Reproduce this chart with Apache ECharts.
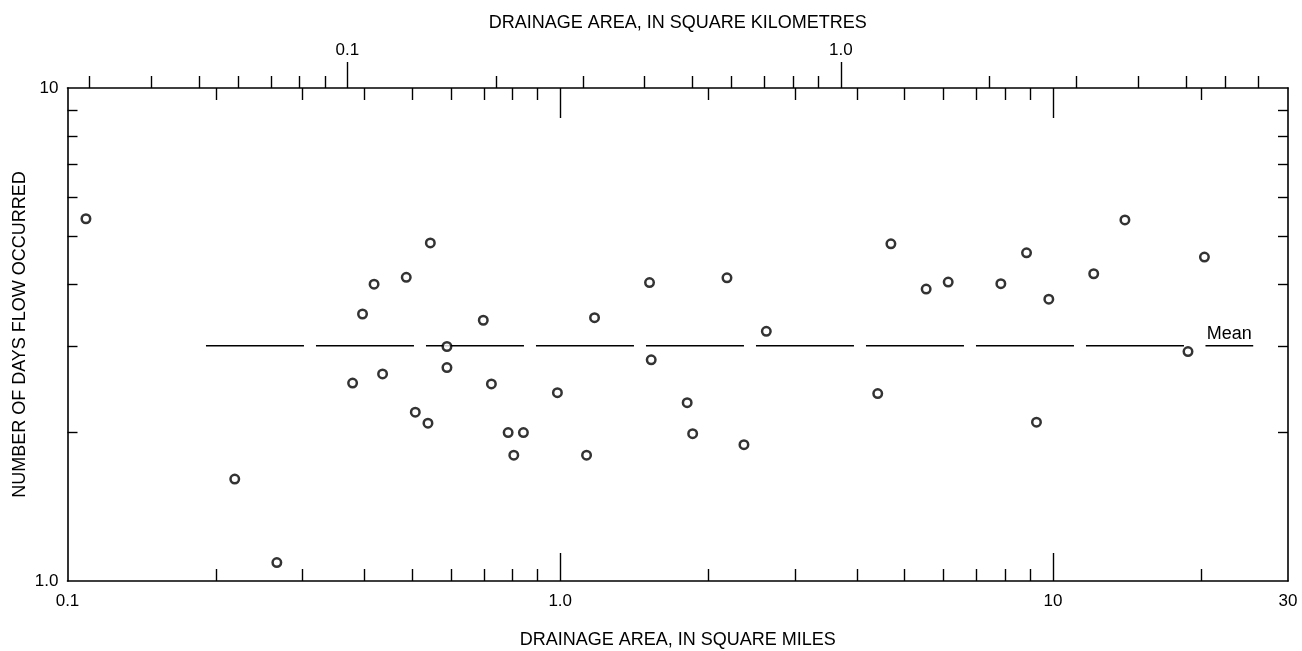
<!DOCTYPE html>
<html>
<head>
<meta charset="utf-8">
<script src="https://cdn.jsdelivr.net/npm/echarts@6/dist/echarts.min.js"></script>
<style>
  html, body { margin: 0; padding: 0; background: #fff; }
  #chart { width: 1302px; height: 651px; }
</style>
</head>
<body>
<div id="chart"></div>
<script>
// ---- data ----
const areaSqMi = [0.109, 0.2185, 0.266, 0.379, 0.397, 0.419, 0.436, 0.487, 0.508, 0.539,
                  0.545, 0.589, 0.589, 0.698, 0.725, 0.784, 0.805, 0.842, 0.987, 1.131,
                  1.174, 1.518, 1.53, 1.81, 1.857, 2.18, 2.36, 2.62, 4.41, 4.69,
                  5.53, 6.13, 7.84, 8.84, 9.26, 9.81, 12.1, 14.0, 18.8, 20.3];
const daysFlow = [5.43, 1.61, 1.09, 2.52, 3.48, 4.00, 2.63, 4.13, 2.20, 2.09,
                  4.85, 2.99, 2.71, 3.38, 2.51, 2.00, 1.80, 2.00, 2.41, 1.80,
                  3.42, 4.03, 2.81, 2.30, 1.99, 4.12, 1.89, 3.21, 2.40, 4.83,
                  3.91, 4.04, 4.01, 4.63, 2.10, 3.73, 4.20, 5.40, 2.92, 4.54];

const meanDays = 3.0;
const meanLineFrom = 0.191;
const meanLineTo = 18.6;
const meanUnderlineFrom = 20.4;
const meanUnderlineTo = 25.5;
const meanLabelAt = 22.8;
const meanLabelText = 'Mean';

// axes
const miMin = 0.1, miMax = 30;
const kmMin = 0.0271, kmMax = 8.05;
const dayMin = 1, dayMax = 10;

const miMinorTicks = [0.2, 0.3, 0.4, 0.5, 0.6, 0.7, 0.8, 0.9, 2, 3, 4, 5, 6, 7, 8, 9, 20];
const miMajorTicks = [1, 10];
const miLabelValues = [0.1, 1, 10, 30];
const miLabelTexts = ['0.1', '1.0', '10', '30'];

const kmMinorTicks = [0.03, 0.04, 0.05, 0.06, 0.07, 0.08, 0.09, 0.2, 0.3, 0.4, 0.5, 0.6, 0.7, 0.8, 0.9, 2, 3, 4, 5, 6, 7];
const kmMajorTicks = [0.1, 1];
const kmLabelValues = [0.1, 1];
const kmLabelTexts = ['0.1', '1.0'];

const dayMinorTicks = [2, 3, 4, 5, 6, 7, 8, 9];
const dayLabelValues = [1, 10];
const dayLabelTexts = ['1.0', '10'];

const xTitleBottom = 'DRAINAGE AREA, IN SQUARE MILES';
const xTitleTop = 'DRAINAGE AREA, IN SQUARE KILOMETRES';
const yTitle = 'NUMBER OF DAYS FLOW OCCURRED';

// ---- chart ----
const FONT = '"Liberation Sans", Arial, Helvetica, sans-serif';
const INK = '#000';

function fmt(values, texts) {
  return function (v) {
    for (let i = 0; i < values.length; i++) {
      if (Math.abs(v - values[i]) / values[i] < 1e-6) return texts[i];
    }
    return '';
  };
}

const lineStyle = { color: INK, width: 1.6 };
const tickStyle = { color: INK, width: 1.4 };
const labelBase = { color: INK, fontFamily: FONT, fontSize: 17 };
const nameBase = { color: INK, fontFamily: FONT, fontSize: 18 };

function logX(opts) {
  return Object.assign({
    type: 'log', gridIndex: 0, splitLine: { show: false },
    axisLine: { show: false, lineStyle: lineStyle },
    axisLabel: { show: false },
    axisPointer: { show: false },
    nameMoveOverlap: false
  }, opts);
}

const xAxis = [
  logX({
    position: 'bottom', min: miMin, max: miMax,
    axisLine: { show: true, lineStyle: lineStyle },
    axisTick: { show: true, inside: true, length: 12, customValues: miMinorTicks, lineStyle: tickStyle },
    axisLabel: Object.assign({ show: true, margin: 12, customValues: miLabelValues, formatter: fmt(miLabelValues, miLabelTexts) }, labelBase),
    name: xTitleBottom, nameLocation: 'middle', nameGap: 50, nameTextStyle: nameBase
  }),
  logX({
    position: 'bottom', min: miMin, max: miMax,
    axisTick: { show: true, inside: true, length: 28, customValues: miMajorTicks, lineStyle: tickStyle }
  }),
  logX({
    position: 'top', min: miMin, max: miMax,
    axisLine: { show: true, lineStyle: lineStyle },
    axisTick: { show: true, inside: true, length: 12, customValues: miMinorTicks, lineStyle: tickStyle }
  }),
  logX({
    position: 'top', min: miMin, max: miMax,
    axisTick: { show: true, inside: true, length: 30, customValues: miMajorTicks, lineStyle: tickStyle }
  }),
  logX({
    position: 'top', min: kmMin, max: kmMax,
    axisTick: { show: true, inside: false, length: 12, customValues: kmMinorTicks, lineStyle: tickStyle },
    name: xTitleTop, nameLocation: 'middle', nameGap: 56, nameTextStyle: nameBase
  }),
  logX({
    position: 'top', min: kmMin, max: kmMax,
    axisTick: { show: true, inside: false, length: 26, customValues: kmMajorTicks, lineStyle: tickStyle },
    axisLabel: Object.assign({ show: true, margin: 29, customValues: kmLabelValues, formatter: fmt(kmLabelValues, kmLabelTexts) }, labelBase)
  })
];

const yAxis = [
  {
    type: 'log', gridIndex: 0, position: 'left', min: dayMin, max: dayMax,
    splitLine: { show: false }, axisPointer: { show: false },
    axisLine: { show: true, lineStyle: lineStyle },
    axisTick: { show: true, inside: true, length: 10, customValues: dayMinorTicks, lineStyle: tickStyle },
    axisLabel: Object.assign({ show: true, margin: 9, customValues: dayLabelValues, formatter: fmt(dayLabelValues, dayLabelTexts) }, labelBase),
    name: yTitle, nameLocation: 'middle', nameGap: 38, nameRotate: 90, nameTextStyle: nameBase,
    nameMoveOverlap: false
  },
  {
    type: 'log', gridIndex: 0, position: 'right', min: dayMin, max: dayMax,
    splitLine: { show: false }, axisPointer: { show: false },
    axisLine: { show: true, lineStyle: lineStyle },
    axisTick: { show: true, inside: true, length: 10, customValues: dayMinorTicks, lineStyle: tickStyle },
    axisLabel: { show: false }
  }
];

const points = areaSqMi.map((a, i) => [a, daysFlow[i]]);

const option = {
  animation: false,
  backgroundColor: '#fff',
  textStyle: { fontFamily: FONT, color: INK },
  grid: { left: 67.5, right: 14, top: 88, bottom: 70, containLabel: false, outerBoundsMode: 'none' },
  xAxis: xAxis,
  yAxis: yAxis,
  series: [
    {
      type: 'line', xAxisIndex: 0, yAxisIndex: 0,
      data: [[meanLineFrom, meanDays], [meanLineTo, meanDays]],
      symbol: 'none', silent: true,
      lineStyle: { color: INK, width: 1.6, type: [98, 12] },
      z: 2
    },
    {
      type: 'line', xAxisIndex: 0, yAxisIndex: 0,
      data: [[meanUnderlineFrom, meanDays], [meanUnderlineTo, meanDays]],
      symbol: 'none', silent: true,
      lineStyle: { color: INK, width: 1.6 },
      markPoint: {
        silent: true,
        symbol: 'rect', symbolSize: 0,
        data: [{ coord: [meanLabelAt, meanDays] }],
        label: { show: true, formatter: meanLabelText, position: 'top', distance: 3, color: INK, fontFamily: FONT, fontSize: 18 }
      },
      z: 2
    },
    {
      type: 'scatter', xAxisIndex: 0, yAxisIndex: 0,
      data: points,
      symbol: 'circle', symbolSize: 8.5,
      itemStyle: { color: '#fff', borderColor: INK, borderWidth: 2.5 },
      silent: true,
      z: 5
    }
  ]
};

const chart = echarts.init(document.getElementById('chart'), null, { renderer: 'canvas' });
chart.setOption(option);
</script>
</body>
</html>
